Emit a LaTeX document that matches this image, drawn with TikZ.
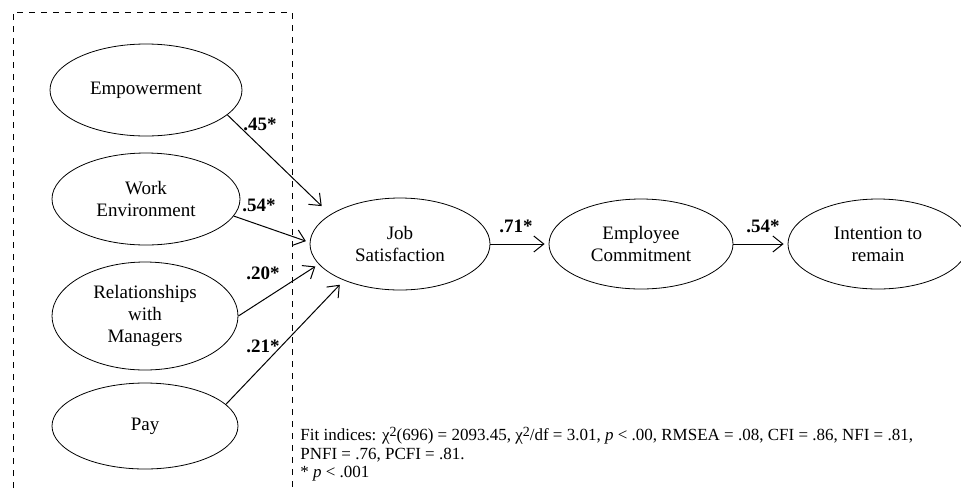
\documentclass[tikz,border=0pt]{standalone}
\usepackage{fontspec}
\setmainfont{Liberation Serif}
\usetikzlibrary{shapes.geometric, arrows.meta}

\tikzset{
    construct/.style={draw, ellipse, inner sep=0pt, align=center,
        font=\fontsize{9.5}{11}\selectfont},
    path/.style={-{Straight Barb[length=5pt, width=8pt]}, line width=0.5pt},
    weight/.style={font=\fontsize{9.5}{11}\selectfont\bfseries}
}

\begin{document}
\begin{tikzpicture}[x=0.5pt, y=-0.5pt]
        \pgfmathsetmacro{\boxLeft}{13}
        \pgfmathsetmacro{\boxRight}{292}
        \pgfmathsetmacro{\boxTop}{12}
        \pgfmathsetmacro{\rowY}{244}

        \useasboundingbox (0, 0) rectangle (961, 488);

        % predictors, inside the dashed frame
        \draw[dashed] (\boxLeft, 488) -- (\boxLeft, \boxTop) -- (\boxRight, \boxTop) -- (\boxRight, 488);

        \node[construct, minimum width=96pt, minimum height=46pt] (emp) at (146, 90) {Empowerment};
        \node[construct, minimum width=94pt, minimum height=46pt] (env) at (146, 199) {Work\\Environment};
        \node[construct, minimum width=93pt, minimum height=54pt] (rel) at (145, 316) {Relationships\\with\\Managers};
        \node[construct, minimum width=93pt, minimum height=43pt] (pay) at (145, 426) {Pay};

        % outcome chain
        \node[construct, minimum width=90pt, minimum height=46pt] (js) at (400, \rowY) {Job\\Satisfaction};
        \node[construct, minimum width=92pt, minimum height=45pt] (ec) at (641, \rowY) {Employee\\Commitment};
        \node[construct, minimum width=90pt, minimum height=45pt] (ir) at (878, \rowY) {Intention to\\remain};

        \draw[path, shorten >=6pt] (emp.-17) -- (js.157);
        \draw[path, shorten >=2pt] (env.-11) -- (js.179);
        \draw[path, shorten >=2pt] (rel.0) -- (js.194);
        \draw[path, shorten >=3pt] (pay.15) -- (js.213);
        \draw[path, shorten >=2pt] (js) -- (ec);
        \draw[path, shorten >=2pt] (ec) -- (ir);

        \node[weight] (w1) at (260, 124) {.45*};
        \node[weight] (w2) at (259, 205) {.54*};
        \node[weight] (w3) at (263, 273) {.20*};
        \node[weight] (w4) at (263, 346) {.21*};
        \node[weight] (w5) at (516, 226) {.71*};
        \node[weight] (w6) at (763, 226) {.54*};

        \node[anchor=north west, align=left, inner sep=0pt,
            font=\fontsize{8.5}{9.3}\selectfont] (fit) at (300, 427)
            {Fit indices: χ\raisebox{0.5ex}{\scriptsize 2}(696) = 2093.45, χ\raisebox{0.5ex}{\scriptsize 2}/df = 3.01, \textit{p} < .00, RMSEA = .08, CFI = .86, NFI = .81,\\
             PNFI = .76, PCFI = .81.\\
             * \textit{p} < .001};
    \end{tikzpicture}
\end{document}
